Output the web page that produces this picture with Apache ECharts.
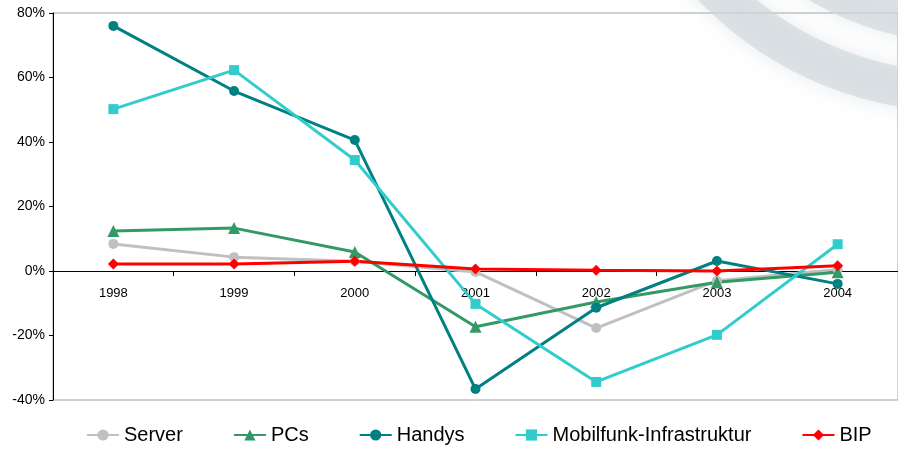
<!DOCTYPE html>
<html>
<head>
<meta charset="utf-8">
<script src="https://cdn.jsdelivr.net/npm/echarts@6/dist/echarts.min.js"></script>
<style>
    html,body{margin:0;padding:0;background:#fff;}
    #main{width:898px;height:450px;}
</style>
</head>
<body>
<div id="main"></div>
<script>
//--------------------数据---------------------------
var years = ['1998','1999','2000','2001','2002','2003','2004'];
var server = [8.4, 4.3, 3.0, -0.3, -17.7, -3.0, 0.5];
var pcs = [12.4, 13.3, 5.9, -17.3, -9.6, -3.5, -0.4];
var handys = [76.0, 55.8, 40.6, -36.6, -11.4, 3.1, -4.0];
var mobilfunk = [50.2, 62.3, 34.4, -10.2, -34.4, -19.8, 8.3];
var bip = [2.2, 2.2, 3.0, 0.6, 0.2, 0.0, 1.6];
var yTicks = [-40, -20, 0, 20, 40, 60, 80];
//--------------------数据---------------------------

var myChart = echarts.init(document.getElementById('main'));

function line(name, data, color, symbol, size){
    return {
        name: name,
        type: 'line',
        data: data,
        symbol: symbol,
        symbolSize: size,
        color: color,
        lineStyle: {color: color, width: 3},
        itemStyle: {color: color},
        z: 3
    };
}

var option = {
    animation: false,
    textStyle: {fontFamily: 'Liberation Sans, Arial, sans-serif'},
    graphic: [
        {
            type: 'circle', z: 0, silent: true,
            shape: {cx: 960, cy: -250, r: 342},
            style: {fill: 'none', stroke: 'rgba(205,213,217,0.6)', lineWidth: 40,
                shadowBlur: 20, shadowColor: 'rgba(205,213,217,0.8)'}
        },
        {
            type: 'circle', z: 0, silent: true,
            shape: {cx: 960, cy: -250, r: 274},
            style: {fill: 'none', stroke: 'rgba(205,213,217,0.6)', lineWidth: 36,
                shadowBlur: 20, shadowColor: 'rgba(205,213,217,0.8)'}
        }
    ],
    grid: {
        left: 53,
        top: 13,
        width: 857,
        height: 387,
        show: true,
        borderColor: '#a0a0a0',
        borderWidth: 1,
        backgroundColor: 'transparent'
    },
    legend: {
        left: 81,
        top: 420,
        itemWidth: 32,
        itemHeight: 14,
        itemGap: 50,
        textStyle: {fontSize: 20, color: '#000'},
        data: ['Server', 'PCs', 'Handys', 'Mobilfunk-Infrastruktur', 'BIP']
    },
    xAxis: {
        type: 'category',
        data: years,
        axisLine: {onZero: true, lineStyle: {color: '#000', width: 1}},
        axisTick: {show: true, length: 5, inside: false, lineStyle: {color: '#000'}},
        axisLabel: {fontSize: 13, color: '#000', margin: -113},
        splitLine: {show: false}
    },
    yAxis: {
        type: 'value',
        min: -40,
        max: 80,
        interval: 20,
        axisLine: {show: true, lineStyle: {color: '#000', width: 1}},
        axisTick: {show: true, length: 4, lineStyle: {color: '#000'}},
        axisLabel: {fontSize: 14, color: '#000', margin: 8, formatter: '{value}%'},
        splitLine: {show: false}
    },
    series: [
        line('Server', server, '#c0c0c0', 'circle', 10),
        line('PCs', pcs, '#339966', 'triangle', 12),
        line('Handys', handys, '#008080', 'circle', 10),
        line('Mobilfunk-Infrastruktur', mobilfunk, '#33cccc', 'rect', 10),
        line('BIP', bip, '#ff0000', 'diamond', 11)
    ]
};
myChart.setOption(option);
</script>
</body>
</html>
